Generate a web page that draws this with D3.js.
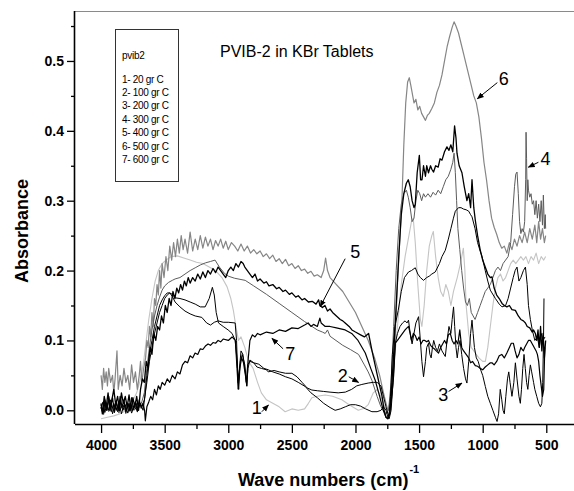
<!DOCTYPE html>
<html>
<head>
<meta charset="utf-8">
<script src="https://cdn.jsdelivr.net/npm/d3@7"></script>
<style>
  body { margin: 0; background: #fff; }
  svg { display: block; font-family: Arial, "Liberation Sans", sans-serif; }
</style>
</head>
<body>
<div id="main"></div>
<script>
// spectra as [wavenumber, absorbance]
const series1 = [[4000,-0.012],[3950,-0.01],[3900,-0.008],[3850,-0.005],[3800,0.0],[3760,0.01],[3720,0.025],[3690,0.045],[3665,0.07],[3645,0.1],[3625,0.13],[3600,0.16],[3575,0.185],[3550,0.2],[3520,0.21],[3490,0.215],[3450,0.22],[3400,0.221],[3350,0.218],[3300,0.215],[3250,0.212],[3200,0.21],[3150,0.205],[3100,0.2],[3050,0.19],[3010,0.177],[2980,0.16],[2960,0.143],[2940,0.12],[2920,0.1],[2900,0.105],[2870,0.09],[2840,0.07],[2805,0.06],[2770,0.04],[2740,0.025],[2700,0.015],[2650,0.01],[2600,0.005],[2553,-0.002],[2500,0.002],[2450,0.0],[2400,0.002],[2370,0.01],[2343,0.018],[2300,0.02],[2238,0.022],[2180,0.02],[2107,0.015],[2050,0.008],[1978,0.0],[1930,0.003],[1900,0.008],[1860,0.025],[1830,0.03],[1800,0.02],[1770,0.005],[1750,0.0],[1730,0.01],[1700,0.06],[1670,0.12],[1640,0.18],[1610,0.22],[1580,0.25],[1560,0.27],[1546,0.275],[1530,0.24],[1510,0.18],[1490,0.13],[1478,0.12],[1460,0.15],[1440,0.2],[1420,0.235],[1400,0.25],[1388,0.256],[1370,0.22],[1350,0.19],[1330,0.17],[1310,0.163],[1290,0.18],[1270,0.17],[1250,0.15],[1230,0.17],[1200,0.19],[1175,0.21],[1152,0.232],[1140,0.2],[1130,0.15],[1110,0.11],[1090,0.09],[1058,0.082],[1030,0.075],[1000,0.07],[979,0.07],[960,0.09],[940,0.12],[920,0.15],[900,0.175],[880,0.19],[860,0.195],[840,0.185],[820,0.19],[800,0.2],[780,0.21],[760,0.215],[740,0.21],[720,0.215],[700,0.22],[680,0.215],[660,0.22],[640,0.21],[620,0.22],[600,0.215],[580,0.225],[560,0.21],[540,0.22],[520,0.215],[505,0.22]];

const series2 = [[4000,0.008],[3985,-0.004],[3970,0.01],[3955,0.0],[3940,0.014],[3920,-0.002],[3900,0.01],[3880,0.0],[3860,0.012],[3840,-0.005],[3820,0.008],[3800,0.0],[3780,0.01],[3760,-0.004],[3740,0.006],[3720,0.0],[3700,0.01],[3680,0.005],[3660,0.015],[3640,0.04],[3620,0.07],[3600,0.09],[3580,0.11],[3560,0.125],[3540,0.14],[3520,0.15],[3500,0.16],[3480,0.165],[3460,0.168],[3440,0.166],[3418,0.161],[3380,0.16],[3340,0.158],[3300,0.155],[3260,0.152],[3220,0.148],[3182,0.148],[3150,0.16],[3125,0.176],[3110,0.165],[3095,0.14],[3077,0.125],[3040,0.12],[3001,0.115],[2970,0.11],[2945,0.1],[2932,0.06],[2922,0.03],[2912,0.06],[2900,0.085],[2885,0.08],[2870,0.06],[2855,0.035],[2845,0.06],[2830,0.072],[2800,0.068],[2775,0.062],[2740,0.06],[2700,0.058],[2686,0.055],[2640,0.057],[2600,0.055],[2550,0.053],[2500,0.053],[2460,0.048],[2420,0.04],[2380,0.032],[2343,0.029],[2300,0.028],[2250,0.027],[2200,0.026],[2136,0.025],[2080,0.026],[2030,0.03],[1990,0.035],[1950,0.037],[1900,0.039],[1860,0.04],[1830,0.04],[1800,0.035],[1780,0.02],[1760,0.005],[1745,-0.005],[1735,-0.008],[1725,0.02],[1710,0.08],[1690,0.12],[1664,0.143],[1640,0.17],[1615,0.19],[1583,0.198],[1560,0.2],[1530,0.204],[1510,0.195],[1490,0.19],[1465,0.186],[1440,0.19],[1420,0.192],[1400,0.195],[1373,0.198],[1340,0.21],[1320,0.22],[1294,0.229],[1270,0.245],[1250,0.26],[1230,0.275],[1215,0.285],[1190,0.29],[1170,0.29],[1150,0.288],[1130,0.287],[1110,0.285],[1095,0.28],[1084,0.277],[1060,0.26],[1040,0.24],[1020,0.228],[1005,0.22],[980,0.2],[960,0.185],[940,0.172],[927,0.168],[900,0.16],[870,0.152],[848,0.148],[820,0.15],[800,0.16],[780,0.175],[760,0.19],[745,0.2],[730,0.205],[715,0.185],[700,0.19],[680,0.2],[664,0.205],[650,0.18],[640,0.15],[625,0.13],[610,0.115],[590,0.1],[570,0.105],[555,0.09],[540,0.11],[525,0.1],[510,0.105]];

const series3 = [[4000,0.002],[3985,0.012],[3970,-0.003],[3955,0.01],[3940,0.0],[3925,0.015],[3910,-0.005],[3890,0.008],[3870,-0.002],[3850,0.012],[3830,0.0],[3810,0.008],[3790,-0.004],[3770,0.01],[3750,0.0],[3730,0.012],[3710,0.002],[3690,0.01],[3670,0.0],[3655,0.02],[3640,0.05],[3620,0.08],[3600,0.1],[3580,0.12],[3560,0.135],[3540,0.15],[3520,0.158],[3500,0.164],[3480,0.168],[3460,0.168],[3440,0.163],[3418,0.155],[3380,0.148],[3340,0.142],[3300,0.138],[3260,0.135],[3208,0.133],[3170,0.125],[3140,0.122],[3110,0.126],[3080,0.128],[3040,0.126],[3000,0.126],[2946,0.125],[2935,0.1],[2925,0.045],[2918,0.03],[2905,0.07],[2890,0.08],[2870,0.065],[2858,0.04],[2848,0.065],[2830,0.07],[2800,0.068],[2760,0.066],[2720,0.06],[2686,0.058],[2650,0.055],[2600,0.052],[2550,0.048],[2500,0.045],[2450,0.04],[2395,0.034],[2350,0.025],[2300,0.018],[2250,0.01],[2200,0.004],[2160,0.0],[2120,0.002],[2080,0.005],[2040,0.008],[2000,0.008],[1960,0.006],[1920,0.002],[1871,-0.002],[1830,-0.002],[1800,0.0],[1780,0.005],[1760,0.0],[1745,-0.01],[1735,-0.012],[1720,0.0],[1705,0.04],[1687,0.096],[1670,0.11],[1650,0.12],[1630,0.125],[1610,0.128],[1595,0.125],[1583,0.129],[1570,0.11],[1555,0.095],[1540,0.11],[1525,0.125],[1504,0.134],[1490,0.1],[1478,0.07],[1465,0.048],[1450,0.07],[1440,0.09],[1426,0.096],[1415,0.08],[1405,0.075],[1395,0.09],[1385,0.1],[1370,0.09],[1355,0.085],[1340,0.095],[1320,0.085],[1294,0.077],[1280,0.1],[1265,0.12],[1250,0.11],[1240,0.13],[1229,0.148],[1220,0.12],[1210,0.09],[1200,0.075],[1190,0.09],[1178,0.1],[1165,0.08],[1150,0.06],[1135,0.045],[1124,0.039],[1110,0.07],[1095,0.11],[1084,0.129],[1075,0.11],[1065,0.09],[1050,0.075],[1035,0.07],[1020,0.06],[1000,0.05],[979,0.034],[960,0.02],[940,0.01],[920,0.0],[900,-0.01],[887,-0.016],[875,-0.005],[862,0.03],[850,0.015],[840,0.0],[830,-0.005],[818,0.02],[805,0.045],[795,0.055],[785,0.04],[770,0.02],[755,0.04],[743,0.068],[730,0.045],[715,0.02],[704,0.01],[695,0.03],[685,0.06],[675,0.08],[665,0.06],[655,0.04],[645,0.03],[635,0.05],[625,0.065],[615,0.055],[600,0.04],[590,0.03],[575,0.02],[560,0.01],[546,0.005],[535,0.01],[528,0.04],[522,0.1],[518,0.16]];

const series4 = [[4000,0.004],[3980,-0.006],[3960,0.008],[3940,-0.002],[3920,0.01],[3900,0.0],[3880,0.008],[3860,-0.004],[3840,0.006],[3820,0.0],[3800,0.01],[3780,-0.002],[3760,0.008],[3740,0.0],[3720,0.01],[3700,0.004],[3680,0.012],[3660,0.025],[3640,0.06],[3620,0.09],[3600,0.115],[3580,0.135],[3560,0.15],[3540,0.162],[3520,0.172],[3500,0.178],[3470,0.183],[3440,0.186],[3418,0.188],[3380,0.19],[3340,0.195],[3300,0.2],[3260,0.204],[3220,0.208],[3180,0.211],[3140,0.213],[3104,0.215],[3070,0.205],[3030,0.196],[3000,0.192],[2950,0.189],[2867,0.186],[2800,0.178],[2700,0.166],[2600,0.153],[2500,0.14],[2400,0.127],[2300,0.115],[2260,0.112],[2238,0.11],[2220,0.115],[2200,0.106],[2100,0.093],[2040,0.087],[1976,0.08],[1930,0.065],[1900,0.055],[1871,0.043],[1830,0.02],[1800,0.005],[1780,0.0],[1760,-0.005],[1740,0.0],[1720,0.04],[1700,0.12],[1680,0.2],[1660,0.26],[1640,0.295],[1620,0.31],[1600,0.315],[1585,0.305],[1570,0.29],[1555,0.27],[1540,0.275],[1525,0.3],[1510,0.315],[1495,0.31],[1480,0.3],[1465,0.31],[1450,0.305],[1430,0.31],[1410,0.305],[1390,0.312],[1370,0.308],[1350,0.315],[1330,0.31],[1310,0.32],[1290,0.33],[1270,0.335],[1250,0.345],[1235,0.355],[1225,0.368],[1215,0.34],[1205,0.3],[1195,0.26],[1180,0.23],[1165,0.2],[1150,0.175],[1135,0.155],[1120,0.15],[1105,0.16],[1090,0.14],[1075,0.135],[1060,0.13],[1040,0.14],[1020,0.15],[1000,0.16],[980,0.17],[960,0.175],[940,0.18],[920,0.19],[900,0.2],[880,0.205],[860,0.2],[840,0.21],[820,0.215],[800,0.22],[780,0.24],[765,0.28],[750,0.32],[740,0.338],[730,0.341],[720,0.31],[710,0.27],[700,0.253],[690,0.26],[680,0.255],[670,0.27],[662,0.33],[659,0.398],[655,0.36],[650,0.3],[645,0.33],[640,0.315],[630,0.305],[620,0.31],[610,0.295],[600,0.3],[590,0.28],[580,0.3],[570,0.275],[560,0.295],[550,0.27],[540,0.3],[530,0.265],[523,0.308],[515,0.26],[508,0.28],[505,0.26]];

const series5 = [[4000,0.01],[3990,-0.005],[3975,0.02],[3960,0.005],[3945,0.025],[3930,0.0],[3915,0.015],[3900,0.03],[3885,0.008],[3870,0.02],[3855,0.0],[3840,0.025],[3825,0.01],[3810,0.02],[3795,0.005],[3780,0.022],[3765,0.0],[3750,0.018],[3735,0.005],[3720,0.02],[3705,0.0],[3690,0.03],[3675,0.045],[3660,0.04],[3645,0.07],[3630,0.06],[3615,0.09],[3600,0.08],[3585,0.11],[3570,0.1],[3555,0.12],[3540,0.115],[3525,0.135],[3510,0.125],[3495,0.15],[3480,0.14],[3465,0.16],[3450,0.15],[3435,0.17],[3420,0.16],[3405,0.175],[3390,0.168],[3375,0.18],[3360,0.172],[3345,0.185],[3330,0.178],[3315,0.19],[3300,0.182],[3280,0.19],[3260,0.185],[3240,0.195],[3220,0.188],[3200,0.198],[3180,0.19],[3160,0.2],[3140,0.195],[3120,0.203],[3100,0.197],[3080,0.205],[3060,0.2],[3040,0.195],[3020,0.19],[3000,0.2],[2980,0.205],[2960,0.2],[2940,0.21],[2920,0.205],[2900,0.213],[2883,0.21],[2870,0.205],[2850,0.2],[2830,0.195],[2810,0.19],[2790,0.195],[2770,0.185],[2750,0.188],[2720,0.182],[2700,0.184],[2680,0.178],[2650,0.18],[2620,0.174],[2600,0.176],[2570,0.17],[2550,0.172],[2520,0.166],[2500,0.168],[2470,0.162],[2450,0.164],[2420,0.158],[2400,0.16],[2370,0.155],[2340,0.156],[2310,0.152],[2290,0.158],[2280,0.15],[2260,0.147],[2240,0.15],[2220,0.142],[2200,0.145],[2180,0.14],[2150,0.135],[2120,0.13],[2100,0.128],[2081,0.125],[2050,0.12],[2028,0.115],[2000,0.112],[1960,0.108],[1930,0.105],[1897,0.11],[1870,0.085],[1840,0.06],[1810,0.035],[1791,0.02],[1775,0.0],[1760,-0.01],[1745,-0.012],[1730,0.0],[1720,0.02],[1700,0.08],[1680,0.15],[1660,0.22],[1640,0.28],[1620,0.31],[1600,0.325],[1585,0.33],[1570,0.32],[1555,0.3],[1540,0.29],[1530,0.295],[1515,0.34],[1498,0.365],[1488,0.33],[1477,0.33],[1465,0.35],[1450,0.335],[1440,0.35],[1426,0.34],[1410,0.35],[1400,0.345],[1386,0.341],[1370,0.35],[1350,0.348],[1335,0.36],[1320,0.358],[1300,0.37],[1281,0.377],[1265,0.372],[1250,0.38],[1235,0.37],[1221,0.407],[1210,0.39],[1202,0.368],[1185,0.35],[1163,0.34],[1145,0.32],[1124,0.3],[1110,0.31],[1095,0.29],[1084,0.33],[1070,0.29],[1058,0.272],[1040,0.25],[1020,0.23],[1000,0.215],[980,0.205],[960,0.195],[940,0.19],[927,0.191],[910,0.175],[890,0.165],[870,0.16],[848,0.153],[830,0.15],[810,0.148],[790,0.15],[770,0.144],[743,0.143],[720,0.135],[700,0.13],[680,0.128],[664,0.125],[650,0.12],[630,0.118],[610,0.112],[600,0.115],[586,0.11],[575,0.1],[565,0.115],[555,0.09],[545,0.12],[535,0.085],[525,0.11],[515,0.075],[505,0.1]];

const series6 = [[4000,0.05],[3990,0.03],[3980,0.06],[3970,0.04],[3960,0.055],[3950,0.035],[3940,0.06],[3925,0.04],[3910,0.05],[3900,0.025],[3890,0.045],[3875,0.085],[3865,0.03],[3850,0.05],[3835,0.035],[3820,0.06],[3805,0.04],[3790,0.05],[3775,0.03],[3760,0.065],[3745,0.04],[3730,0.055],[3715,0.03],[3700,0.05],[3690,0.07],[3680,0.04],[3665,0.06],[3650,0.075],[3640,0.1],[3630,0.09],[3620,0.12],[3610,0.105],[3600,0.14],[3590,0.12],[3580,0.16],[3570,0.15],[3560,0.18],[3550,0.165],[3540,0.2],[3530,0.175],[3520,0.21],[3505,0.19],[3490,0.22],[3475,0.2],[3460,0.235],[3445,0.215],[3430,0.24],[3415,0.22],[3400,0.245],[3385,0.225],[3370,0.25],[3355,0.23],[3340,0.245],[3320,0.225],[3300,0.255],[3280,0.228],[3260,0.245],[3240,0.23],[3220,0.25],[3200,0.232],[3180,0.248],[3160,0.235],[3140,0.245],[3120,0.23],[3100,0.243],[3080,0.235],[3060,0.245],[3040,0.232],[3020,0.242],[3000,0.23],[2975,0.24],[2950,0.235],[2925,0.228],[2900,0.238],[2875,0.228],[2850,0.235],[2825,0.225],[2800,0.23],[2775,0.224],[2750,0.228],[2725,0.22],[2700,0.224],[2675,0.217],[2650,0.222],[2625,0.213],[2600,0.217],[2575,0.21],[2550,0.216],[2525,0.207],[2500,0.21],[2475,0.203],[2450,0.207],[2425,0.2],[2400,0.202],[2375,0.196],[2350,0.199],[2325,0.192],[2300,0.194],[2270,0.19],[2250,0.2],[2235,0.218],[2220,0.2],[2200,0.19],[2150,0.18],[2100,0.17],[2050,0.155],[2000,0.14],[1950,0.12],[1900,0.1],[1850,0.075],[1810,0.05],[1780,0.025],[1760,0.01],[1745,0.0],[1730,0.005],[1710,0.03],[1690,0.1],[1670,0.18],[1650,0.25],[1635,0.3],[1620,0.38],[1605,0.44],[1590,0.47],[1577,0.476],[1565,0.465],[1550,0.45],[1540,0.44],[1525,0.445],[1510,0.43],[1495,0.435],[1480,0.425],[1465,0.42],[1450,0.415],[1435,0.422],[1420,0.425],[1400,0.432],[1380,0.44],[1360,0.455],[1340,0.465],[1320,0.48],[1300,0.5],[1280,0.52],[1260,0.535],[1240,0.548],[1225,0.556],[1210,0.55],[1190,0.54],[1170,0.525],[1150,0.51],[1130,0.495],[1110,0.48],[1090,0.465],[1070,0.45],[1050,0.44],[1030,0.42],[1010,0.39],[990,0.355],[970,0.33],[950,0.3],[930,0.275],[910,0.262],[890,0.252],[870,0.24],[850,0.232],[830,0.235],[810,0.225],[790,0.24],[770,0.23],[750,0.245],[730,0.235],[710,0.25],[690,0.24],[670,0.255],[650,0.24],[630,0.26],[610,0.245],[590,0.265],[575,0.24],[560,0.27],[545,0.245],[530,0.26],[515,0.24],[505,0.25]];

const series7 = [[4000,0.005],[3985,-0.005],[3970,0.015],[3955,0.0],[3940,0.02],[3925,0.005],[3910,0.018],[3895,-0.003],[3880,0.012],[3865,0.0],[3850,0.02],[3835,0.004],[3820,0.015],[3805,-0.004],[3790,0.01],[3775,0.0],[3760,0.018],[3745,0.002],[3730,0.012],[3715,-0.002],[3700,0.015],[3685,0.003],[3670,0.01],[3658,0.0],[3652,-0.015],[3640,0.005],[3625,0.012],[3610,0.02],[3595,0.015],[3580,0.03],[3565,0.022],[3550,0.035],[3535,0.03],[3520,0.04],[3500,0.036],[3480,0.045],[3460,0.04],[3440,0.05],[3418,0.045],[3400,0.055],[3380,0.052],[3360,0.065],[3340,0.07],[3320,0.068],[3300,0.078],[3280,0.075],[3261,0.082],[3240,0.08],[3220,0.088],[3200,0.087],[3180,0.092],[3159,0.095],[3140,0.093],[3120,0.097],[3100,0.096],[3080,0.1],[3060,0.098],[3040,0.102],[3000,0.1],[2970,0.105],[2945,0.1],[2930,0.07],[2922,0.04],[2910,0.06],[2895,0.075],[2880,0.068],[2865,0.05],[2854,0.035],[2845,0.07],[2830,0.1],[2810,0.108],[2790,0.105],[2770,0.11],[2750,0.108],[2700,0.112],[2650,0.11],[2600,0.115],[2550,0.113],[2500,0.118],[2450,0.117],[2400,0.122],[2372,0.125],[2350,0.12],[2330,0.123],[2300,0.12],[2280,0.132],[2270,0.125],[2238,0.12],[2200,0.12],[2150,0.118],[2081,0.115],[2030,0.11],[1980,0.1],[1923,0.082],[1880,0.06],[1845,0.043],[1810,0.02],[1782,0.0],[1760,-0.01],[1745,-0.012],[1730,-0.005],[1715,0.02],[1700,0.05],[1687,0.096],[1670,0.1],[1650,0.105],[1630,0.11],[1610,0.115],[1595,0.118],[1583,0.12],[1570,0.11],[1560,0.1],[1545,0.11],[1530,0.107],[1515,0.1],[1500,0.105],[1485,0.095],[1470,0.1],[1455,0.1],[1440,0.098],[1426,0.1],[1410,0.093],[1395,0.09],[1380,0.088],[1365,0.085],[1347,0.082],[1330,0.09],[1315,0.095],[1300,0.1],[1285,0.095],[1270,0.108],[1255,0.11],[1240,0.1],[1225,0.095],[1210,0.1],[1195,0.095],[1180,0.115],[1165,0.09],[1150,0.085],[1130,0.08],[1110,0.075],[1095,0.068],[1080,0.07],[1058,0.064],[1040,0.063],[1020,0.06],[1000,0.058],[980,0.062],[960,0.065],[940,0.068],[927,0.068],[910,0.065],[890,0.07],[870,0.078],[850,0.08],[830,0.075],[810,0.082],[790,0.09],[775,0.096],[759,0.096],[745,0.085],[730,0.075],[715,0.08],[700,0.09],[690,0.087],[680,0.085],[670,0.09],[655,0.095],[640,0.1],[625,0.1],[610,0.095],[595,0.09],[580,0.085],[570,0.08],[560,0.07],[550,0.05],[540,0.035],[530,0.02],[520,0.03],[512,0.09]];

const seriesNames = ["1", "2", "3", "4", "5", "6", "7"];
const legendTitle = "pvib2";
const legendLabels = ["1- 20 gr C", "2- 100 gr C", "3- 200 gr C", "4- 300 gr C", "5- 400 gr C", "6- 500 gr C", "7- 600 gr C"];
const xTicks = [4000, 3500, 3000, 2500, 2000, 1500, 1000, 500];
const xMinorTicks = [3750, 3250, 2750, 2250, 1750, 1250, 750];
const yTicks = [0.0, 0.1, 0.2, 0.3, 0.4, 0.5];
const yMinorTicks = [0.05, 0.15, 0.25, 0.35, 0.45, 0.55];

// number label, text position, arrow tail, arrow head (data units)
const labels = [
  {t: "6", at: [835, 0.465], from: [885, 0.469], to: [1042, 0.446]},
  {t: "4", at: [507, 0.351], from: [562, 0.355], to: [641, 0.348]},
  {t: "5", at: [2002, 0.2175], from: [2081, 0.217], to: [2277, 0.1485]},
  {t: "7", at: [2513, 0.072], from: [2569, 0.088], to: [2657, 0.103]},
  {t: "2", at: [2100, 0.041], from: [2053, 0.048], to: [1976, 0.040]},
  {t: "1", at: [2776, -0.005], from: [2736, -0.002], to: [2684, 0.0076]},
  {t: "3", at: [1310, 0.013], from: [1268, 0.027], to: [1163, 0.039]}
];

const ctx = {width: 574, height: 491, left: 75, right: 573, top: 11, bottom: 424};

const svg = d3.select("#main").append("svg")
  .attr("width", ctx.width)
  .attr("height", ctx.height);

svg.append("rect").attr("width", ctx.width).attr("height", ctx.height).attr("fill", "#fff");

const x = d3.scaleLinear().domain([4205, 290]).range([ctx.left, ctx.right]);
const y = d3.scaleLinear().domain([-0.0196, 0.5715]).range([ctx.bottom, ctx.top]);

// top frame line
svg.append("line")
  .attr("x1", ctx.left).attr("x2", ctx.width)
  .attr("y1", ctx.top + 0.5).attr("y2", ctx.top + 0.5)
  .attr("stroke", "#8a8a8a").attr("stroke-width", 1);

// spectra, grey ones underneath
const line = d3.line().x(d => x(d[0])).y(d => y(d[1]));
const drawOrder = [
  {data: series1, color: "#c4c4c4", w: 1.1},
  {data: series6, color: "#868686", w: 1.2},
  {data: series4, color: "#5c5c5c", w: 1.0},
  {data: series3, color: "#000", w: 1.0},
  {data: series2, color: "#000", w: 1.0},
  {data: series7, color: "#000", w: 1.2},
  {data: series5, color: "#000", w: 1.3}
];
svg.append("g").selectAll("path")
  .data(drawOrder)
  .enter().append("path")
  .attr("d", d => line(d.data))
  .attr("fill", "none")
  .attr("stroke", d => d.color)
  .attr("stroke-width", d => d.w)
  .attr("stroke-linejoin", "round");

// axes
const xAxis = svg.append("g")
  .attr("transform", `translate(0,${ctx.bottom})`)
  .call(d3.axisBottom(x).tickValues(xTicks).tickSize(9).tickPadding(7).tickFormat(d3.format("d")));
xAxis.select(".domain").attr("d", `M${ctx.left},0.5H${ctx.width}`).attr("stroke-width", 1.6);
svg.append("g")
  .attr("transform", `translate(0,${ctx.bottom})`)
  .call(d3.axisBottom(x).tickValues(xMinorTicks).tickSize(5).tickFormat(""))
  .select(".domain").remove();

const yAxis = svg.append("g")
  .attr("transform", `translate(${ctx.left},0)`)
  .call(d3.axisLeft(y).tickValues(yTicks).tickSize(8).tickPadding(3).tickFormat(d3.format(".1f")));
yAxis.select(".domain").attr("d", `M-0.5,${ctx.top}V${ctx.bottom}`).attr("stroke-width", 1.6);
svg.append("g")
  .attr("transform", `translate(${ctx.left},0)`)
  .call(d3.axisLeft(y).tickValues(yMinorTicks).tickSize(4).tickFormat(""))
  .select(".domain").remove();

svg.selectAll(".tick line").attr("stroke-width", 1.3);
svg.selectAll(".tick text")
  .attr("font-family", "Arial, 'Liberation Sans', sans-serif")
  .attr("font-size", 14)
  .attr("font-weight", "bold")
  .attr("fill", "#000");

// axis titles
svg.append("text")
  .attr("transform", "translate(28,231) rotate(-90)")
  .attr("text-anchor", "middle")
  .attr("font-size", 18).attr("font-weight", "bold")
  .text("Absorbance");

const xt = svg.append("text")
  .attr("x", 238).attr("y", 486)
  .attr("font-size", 18).attr("font-weight", "bold");
xt.append("tspan").text("Wave numbers (cm)");
xt.append("tspan").attr("dy", -13).attr("dx", 1).attr("font-size", 11).text("-1");

// chart title
svg.append("text")
  .attr("x", 220).attr("y", 57)
  .attr("font-size", 16)
  .text("PVIB-2 in KBr Tablets");

// legend box
const lg = svg.append("g");
lg.append("rect")
  .attr("x", 115.5).attr("y", 29.5).attr("width", 63).attr("height", 152)
  .attr("fill", "#fff").attr("stroke", "#333").attr("stroke-width", 1);
lg.append("text").attr("x", 122).attr("y", 59).attr("font-size", 10).attr("letter-spacing", -0.3).text(legendTitle);
lg.selectAll(".entry")
  .data(legendLabels)
  .enter().append("text")
  .attr("class", "entry")
  .attr("x", 122)
  .attr("y", (d, i) => 82.5 + i * 13.4)
  .attr("font-size", 10)
  .attr("letter-spacing", -0.3)
  .text(d => d);

// numbered arrows
const defs = svg.append("defs");
defs.append("marker")
  .attr("id", "head")
  .attr("viewBox", "0 0 10 10")
  .attr("refX", 9).attr("refY", 5)
  .attr("markerWidth", 7).attr("markerHeight", 7)
  .attr("markerUnits", "userSpaceOnUse")
  .attr("orient", "auto")
  .append("path").attr("d", "M0,1L10,5L0,9Z").attr("fill", "#000");

const ann = svg.append("g");
ann.selectAll("line")
  .data(labels)
  .enter().append("line")
  .attr("x1", d => x(d.from[0])).attr("y1", d => y(d.from[1]))
  .attr("x2", d => x(d.to[0])).attr("y2", d => y(d.to[1]))
  .attr("stroke", "#000").attr("stroke-width", 1)
  .attr("marker-end", "url(#head)");
ann.selectAll("text")
  .data(labels)
  .enter().append("text")
  .attr("x", d => x(d.at[0])).attr("y", d => y(d.at[1]))
  .attr("text-anchor", "middle")
  .attr("font-size", 18)
  .text(d => d.t);
</script>
</body>
</html>
